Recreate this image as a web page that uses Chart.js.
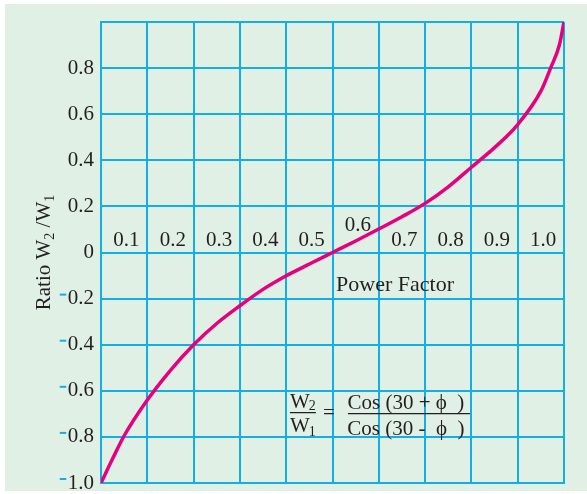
<!DOCTYPE html>
<html>
<head>
<meta charset="utf-8">
<script src="https://cdn.jsdelivr.net/npm/chart.js@4.4.1/dist/chart.umd.min.js"></script>
<style>
  html, body { margin: 0; padding: 0; background: #ffffff; }
  #panel { position: absolute; left: 5px; top: 4px; width: 582px; height: 487px; background: #e1f0e5; }
  #wrap { position: absolute; left: 0; top: 0; width: 587px; height: 494px; }
</style>
</head>
<body>
<div id="panel"></div>
<div id="wrap"><canvas id="chart" width="587" height="494"></canvas></div>
<script>
// Datos: relación W2/W1 frente al factor de potencia
const powerFactor = [0, 0.025, 0.05, 0.1, 0.15, 0.2, 0.25, 0.3, 0.35, 0.4, 0.45, 0.5,
                     0.55, 0.6, 0.65, 0.7, 0.75, 0.8, 0.85, 0.9, 0.95, 0.971, 0.99, 1.0];
const ratio = [-1.0, -0.895, -0.795, -0.64, -0.511, -0.4, -0.308, -0.231, -0.16, -0.101, -0.05, 0.0,
               0.05, 0.102, 0.155, 0.213, 0.285, 0.37, 0.455, 0.555, 0.7, 0.8, 0.9, 1.0];
const yTickValues = [-1.0, -0.8, -0.6, -0.4, -0.2, 0, 0.2, 0.4, 0.6, 0.8, 1.0];
const pfLabels = ['0.1', '0.2', '0.3', '0.4', '0.5', '0.6', '0.7', '0.8', '0.9', '1.0'];

const GRID = '#14aee6';
const INK = '#231f20';
const FONT = "'Liberation Serif', 'Times New Roman', serif";

// Dibuja los guiones azules de los valores negativos del eje Y
const minusDash = {
  id: 'minusDash',
  afterDraw(chart) {
    const { ctx, scales: { y }, chartArea } = chart;
    ctx.save();
    ctx.font = '21px ' + FONT;
    ctx.strokeStyle = GRID;
    ctx.lineWidth = 2;
    y.ticks.forEach(t => {
      if (t.value > -1e-9) return;
      const txt = Math.abs(t.value).toFixed(1);
      const w = ctx.measureText(txt).width;
      const right = chartArea.left - 7;
      const py = y.getPixelForValue(t.value) - 4;
      ctx.beginPath();
      ctx.moveTo(right - w - 8, py);
      ctx.lineTo(right - w - 1.5, py);
      ctx.stroke();
    });
    ctx.restore();
  }
};

// Textos: título del eje Y, etiquetas de FP, "Power Factor" y la fórmula
const texts = {
  id: 'texts',
  afterDraw(chart) {
    const { ctx, scales: { x, y } } = chart;
    const big = '21px ' + FONT, small = '14px ' + FONT;
    ctx.save();
    ctx.fillStyle = INK;

    // etiquetas del factor de potencia sobre la línea cero
    ctx.font = big;
    ctx.textAlign = 'center';
    ctx.textBaseline = 'alphabetic';
    const y0 = y.getPixelForValue(0);
    pfLabels.forEach(lbl => {
      const v = parseFloat(lbl);
      const raise = lbl === '0.6' ? 15 : 0;
      ctx.fillText(lbl, x.getPixelForValue(v - 0.045), y0 - 7 - raise);
    });

    // Power Factor
    ctx.font = '22px ' + FONT;
    ctx.textBaseline = 'middle';
    ctx.fillText('Power Factor', x.getPixelForValue(0.635), y.getPixelForValue(-0.14));

    // título del eje Y con subíndices
    const parts = [['Ratio W', 0], ['2', 1], [' /W', 0], ['1', 1]];
    let total = 0;
    parts.forEach(([s, sub]) => { ctx.font = sub ? small : big; total += ctx.measureText(s).width; });
    ctx.translate(43, (chart.chartArea.top + chart.chartArea.bottom) / 2);
    ctx.rotate(-Math.PI / 2);
    ctx.textAlign = 'left';
    ctx.textBaseline = 'alphabetic';
    let cx = -total / 2;
    parts.forEach(([s, sub]) => {
      ctx.font = sub ? small : big;
      ctx.fillText(s, cx, sub ? 11 : 7);
      cx += ctx.measureText(s).width;
    });
    ctx.setTransform(1, 0, 0, 1, 0, 0);

    // fórmula W2/W1 = Cos(30+ϕ)/Cos(30-ϕ)
    const fx = x.getPixelForValue(0.408);
    const fy = y.getPixelForValue(-0.695);
    ctx.font = big;
    ctx.textAlign = 'left';
    const wW = ctx.measureText('W').width;
    ctx.fillText('W', fx, fy - 5);
    ctx.fillText('W', fx, fy + 19);
    ctx.font = small;
    ctx.fillText('2', fx + wW - 1, fy - 3);
    ctx.fillText('1', fx + wW - 1, fy + 23);
    ctx.strokeStyle = INK;
    ctx.lineWidth = 1.2;
    ctx.beginPath();
    ctx.moveTo(fx, fy); ctx.lineTo(fx + 26, fy);
    ctx.moveTo(fx + 58, fy + 1); ctx.lineTo(fx + 180, fy + 1);
    ctx.stroke();
    ctx.font = big;
    ctx.textAlign = 'center';
    ctx.fillText('=', fx + 39, fy + 6);
    ctx.fillText('Cos (30 + \u03d5  )', fx + 116, fy - 4);
    ctx.fillText('Cos (30 -  \u03d5  )', fx + 116, fy + 22);
    ctx.restore();
  }
};

new Chart(document.getElementById('chart'), {
  type: 'line',
  data: {
    datasets: [{
      data: powerFactor.map((pf, i) => ({ x: pf, y: ratio[i] })),
      borderColor: '#e6007e',
      borderWidth: 3.5,
      pointRadius: 0,
      cubicInterpolationMode: 'monotone',
      fill: false
    }]
  },
  options: {
    responsive: false,
    animation: false,
    layout: { padding: { top: 22, right: 23, bottom: 11, left: 0 } },
    plugins: {
      legend: { display: false },
      tooltip: { enabled: false }
    },
    scales: {
      x: {
        type: 'linear',
        min: 0,
        max: 1,
        ticks: { display: false, stepSize: 0.1 },
        grid: { color: GRID, lineWidth: 2, drawTicks: false },
        border: { color: GRID, width: 2 },
        afterFit: s => { s.height = 0; s.paddingLeft = 0; s.paddingRight = 0; }
      },
      y: {
        type: 'linear',
        min: -1,
        max: 1,
        afterBuildTicks: s => { s.ticks = yTickValues.map(v => ({ value: v })); },
        ticks: {
          color: INK,
          padding: 7,
          font: { family: FONT, size: 21 },
          callback: v => {
            if (Math.abs(v - 1) < 1e-9) return '';
            if (Math.abs(v) < 1e-9) return '0';
            return Math.abs(v).toFixed(1);
          }
        },
        grid: { color: GRID, lineWidth: 2, drawTicks: false },
        border: { color: GRID, width: 2 },
        afterFit: s => { s.width = 101; s.paddingTop = 0; s.paddingBottom = 0; }
      }
    }
  },
  plugins: [minusDash, texts]
});
</script>
</body>
</html>
